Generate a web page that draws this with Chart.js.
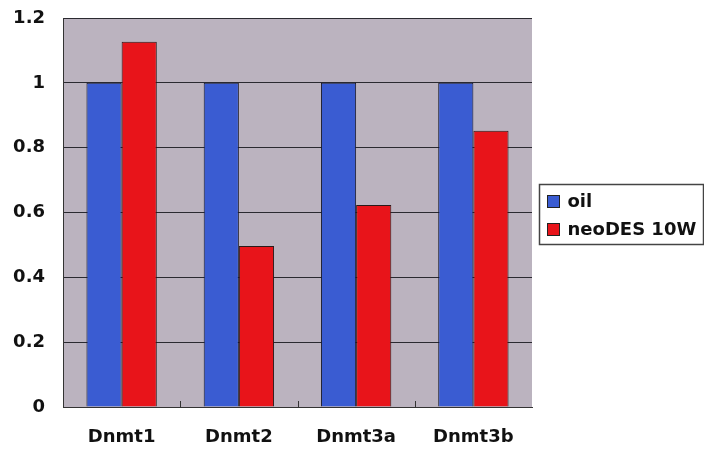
<!DOCTYPE html>
<html><head><meta charset="utf-8">
<script src="https://cdn.jsdelivr.net/npm/chart.js@4"></script>
<style>html,body{margin:0;padding:0;background:#fff}#wrap{width:704px;height:456px}</style>
</head><body><div id="wrap"><canvas id="c" width="704" height="456"></canvas></div>
<script>
const categories = ["Dnmt1", "Dnmt2", "Dnmt3a", "Dnmt3b"];
const oilValues = [1.0, 1.0, 1.0, 1.0];
const neoDESValues = [1.127, 0.497, 0.623, 0.852];
const seriesNames = ["oil", "neoDES 10W"];
const yTicks = [0, 0.2, 0.4, 0.6, 0.8, 1, 1.2];

const FONT = '"DejaVu Sans", Arial, sans-serif';

const plotBg = {
  id: 'plotBg',
  beforeDraw(chart) {
    const {ctx, chartArea: a} = chart;
    ctx.save(); ctx.fillStyle = '#bbb3bf';
    ctx.fillRect(a.left, a.top, a.right - a.left, a.bottom - a.top);
    ctx.restore();
  },
  afterDraw(chart) {
    const {ctx, chartArea: a} = chart;
    ctx.save();
    ctx.strokeStyle = '#333'; ctx.lineWidth = 1;
    const step = (a.right - a.left) / categories.length;
    for (let i = 1; i < categories.length; i++) {
      const x = Math.round(a.left + step * i) + 0.5;
      ctx.beginPath(); ctx.moveTo(x, a.bottom); ctx.lineTo(x, a.bottom - 6); ctx.stroke();
    }
    // legend
    const lx = 539.5, ly = 184.5, lw = 164, lh = 60;
    ctx.strokeStyle = '#444'; ctx.lineWidth = 1.5;
    ctx.strokeRect(lx, ly, lw, lh);
    ctx.font = 'bold 18px ' + FONT;
    ctx.textBaseline = 'middle';
    const cols = [chart.data.datasets[0].backgroundColor, chart.data.datasets[1].backgroundColor];
    seriesNames.forEach((n, i) => {
      const cy = ly + 17 + i * 28;
      ctx.fillStyle = cols[i]; ctx.fillRect(lx + 8, cy - 6, 12, 12);
      ctx.strokeStyle = '#222'; ctx.lineWidth = 1; ctx.strokeRect(lx + 8, cy - 6, 12, 12);
      ctx.fillStyle = '#111'; ctx.fillText(n, lx + 28, cy + 1);
    });
    ctx.restore();
  }
};

new Chart(document.getElementById('c'), {
  type: 'bar',
  data: {
    labels: categories,
    datasets: [
      {label: seriesNames[0], data: oilValues, backgroundColor: '#3a5cd2', borderColor: '#1a1a2a', borderWidth: 1},
      {label: seriesNames[1], data: neoDESValues, backgroundColor: '#e8141a', borderColor: '#2a1a1a', borderWidth: 1}
    ]
  },
  options: {
    responsive: false, animation: false,
    layout: {padding: {left: 0, right: 172, top: 18, bottom: 0}, autoPadding: false},
    datasets: {bar: {categoryPercentage: 0.6, barPercentage: 1.0}},
    plugins: {legend: {display: false}, tooltip: {enabled: false}},
    scales: {
      x: {
        grid: {display: false, drawTicks: false},
        border: {color: '#333', width: 1},
        ticks: {color: '#111', font: {family: FONT, size: 18, weight: 'bold'}, padding: 20},
        afterFit(s) { s.height = 49; s.paddingLeft = 0; s.paddingRight = 0; }
      },
      y: {
        min: 0, max: 1.2,
        afterBuildTicks(s) { s.ticks = yTicks.map(v => ({value: v})); },
        grid: {color: '#2a2a30', lineWidth: 1, drawTicks: false},
        border: {color: '#333', width: 1},
        ticks: {color: '#111', font: {family: FONT, size: 18, weight: 'bold'}, padding: 18,
          callback: v => String(v)},
        afterFit(s) { s.width = 63; s.paddingTop = 0; s.paddingBottom = 0; }
      }
    }
  },
  plugins: [plotBg]
});
</script></body></html>
